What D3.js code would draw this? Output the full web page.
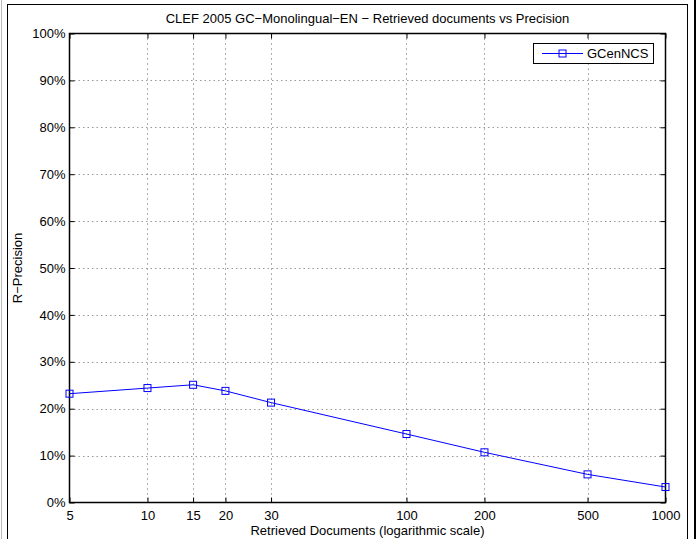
<!DOCTYPE html>
<html>
<head>
<meta charset="utf-8">
<script src="https://cdn.jsdelivr.net/npm/d3@7"></script>
<style>
  body { margin: 0; background: #fff; }
  svg text { font-family: 'Liberation Sans', Arial, sans-serif; fill: #000; }
</style>
</head>
<body>
<div id="chart"></div>
<script>
var docs = [5, 10, 15, 20, 30, 100, 200, 500, 1000]
var precision = [23.2, 24.4, 25.1, 23.8, 21.3, 14.6, 10.7, 6.0, 3.3]
var yTicks = [0, 10, 20, 30, 40, 50, 60, 70, 80, 90, 100]
var seriesName = 'GCenNCS'
var title = 'CLEF 2005 GC\u2212Monolingual\u2212EN \u2212 Retrieved documents vs Precision'

var W = 696, H = 539
// plot box edges (window.top is reserved, so prefixed names)
var pLeft = 69.5, pRight = 665.5, pTop = 33.5, pBottom = 502.5
var fs = '13px'

var svg = d3.select('#chart')
    .append('svg')
    .attr('width', W)
    .attr('height', H)

// figure frame
svg.append('line')
    .attr('x1', 1.5).attr('x2', 1.5).attr('y1', 0).attr('y2', H)
    .attr('stroke', '#bbb')
svg.append('rect')
    .attr('x', 7.5).attr('y', 4.5)
    .attr('width', 680).attr('height', H)
    .attr('fill', 'none').attr('stroke', '#000')
svg.append('rect')
    .attr('x', 694).attr('y', 0)
    .attr('width', 2).attr('height', H)
    .attr('fill', '#000')

var x = d3.scaleLog()
    .domain([5, 1000])
    .range([pLeft, pRight])

var y = d3.scaleLinear()
    .domain([0, 100])
    .range([pBottom, pTop])

// grid
svg.append('g')
    .selectAll('line')
    .data(docs.slice(1, -1))
    .enter()
    .append('line')
    .attr('x1', d => Math.round(x(d)) + 0.5)
    .attr('x2', d => Math.round(x(d)) + 0.5)
    .attr('y1', pTop)
    .attr('y2', pBottom)
    .attr('stroke', '#333')
    .attr('stroke-width', 0.8)
    .attr('stroke-dasharray', '1,4')

svg.append('g')
    .selectAll('line')
    .data(yTicks.slice(1, -1))
    .enter()
    .append('line')
    .attr('x1', pLeft)
    .attr('x2', pRight)
    .attr('y1', d => Math.round(y(d)) + 0.5)
    .attr('y2', d => Math.round(y(d)) + 0.5)
    .attr('stroke', '#999')
    .attr('stroke-dasharray', '1.5,3')

// axes (ticks inside, mirrored)
var xaxis = d3.axisBottom(x).tickValues(docs).tickSize(-5).tickPadding(8).tickFormat(d3.format('d'))
svg.append('g')
    .attr('transform', `translate(0, ${pBottom})`)
    .call(xaxis)
    .call(g => g.select('.domain').remove())
svg.append('g')
    .attr('transform', `translate(0, ${pTop})`)
    .call(d3.axisTop(x).tickValues(docs).tickSize(-5).tickFormat(''))
    .call(g => g.select('.domain').remove())

var yaxis = d3.axisLeft(y).tickValues(yTicks).tickSize(-5).tickPadding(4).tickFormat(d => d + '%')
svg.append('g')
    .attr('transform', `translate(${pLeft}, 0)`)
    .call(yaxis)
    .call(g => g.select('.domain').remove())
svg.append('g')
    .attr('transform', `translate(${pRight}, 0)`)
    .call(d3.axisRight(y).tickValues(yTicks).tickSize(-5).tickFormat(''))
    .call(g => g.select('.domain').remove())

svg.selectAll('.tick text')
    .style('font-size', fs)
    .style('font-family', "'Liberation Sans', Arial, sans-serif")
svg.selectAll('.tick line').attr('stroke', '#000')

// plot box
svg.append('rect')
    .attr('x', pLeft).attr('y', pTop)
    .attr('width', pRight - pLeft).attr('height', pBottom - pTop)
    .attr('fill', 'none').attr('stroke', '#000').attr('stroke-width', 1.5)

// series
var line = d3.line()
    .x((d, i) => x(docs[i]))
    .y(d => y(d))

svg.append('path')
    .datum(precision)
    .attr('d', line)
    .attr('fill', 'none')
    .attr('stroke', '#0000ff')
    .attr('stroke-width', 1)

svg.selectAll('rect.dot')
    .data(precision)
    .enter()
    .append('rect')
    .attr('class', 'dot')
    .attr('x', (d, i) => x(docs[i]) - 3.5)
    .attr('y', d => y(d) - 3.5)
    .attr('width', 7)
    .attr('height', 7)
    .attr('fill', 'none')
    .attr('stroke', '#0000ff')

// legend
var lg = svg.append('g').attr('transform', 'translate(533, 43)')
lg.append('rect')
    .attr('x', 0.5).attr('y', 0.5)
    .attr('width', 120).attr('height', 20)
    .attr('fill', '#fff').attr('stroke', '#000')
lg.append('line')
    .attr('x1', 9).attr('x2', 50).attr('y1', 10.5).attr('y2', 10.5)
    .attr('stroke', '#0000ff')
lg.append('rect')
    .attr('x', 26).attr('y', 7).attr('width', 7).attr('height', 7)
    .attr('fill', 'none').attr('stroke', '#0000ff')
lg.append('text')
    .text(seriesName)
    .attr('x', 54).attr('y', 15)
    .style('font-size', fs)

// titles
svg.append('text')
    .text(title)
    .attr('text-anchor', 'middle')
    .attr('x', (pLeft + pRight) / 2)
    .attr('y', 23)
    .style('font-size', fs)

svg.append('text')
    .text('Retrieved Documents (logarithmic scale)')
    .attr('text-anchor', 'middle')
    .attr('x', (pLeft + pRight) / 2)
    .attr('y', 535)
    .style('font-size', fs)

svg.append('text')
    .text('R\u2212Precision')
    .attr('text-anchor', 'middle')
    .attr('transform', `translate(22, ${(pTop + pBottom) / 2}) rotate(-90)`)
    .style('font-size', fs)
</script>
</body>
</html>
